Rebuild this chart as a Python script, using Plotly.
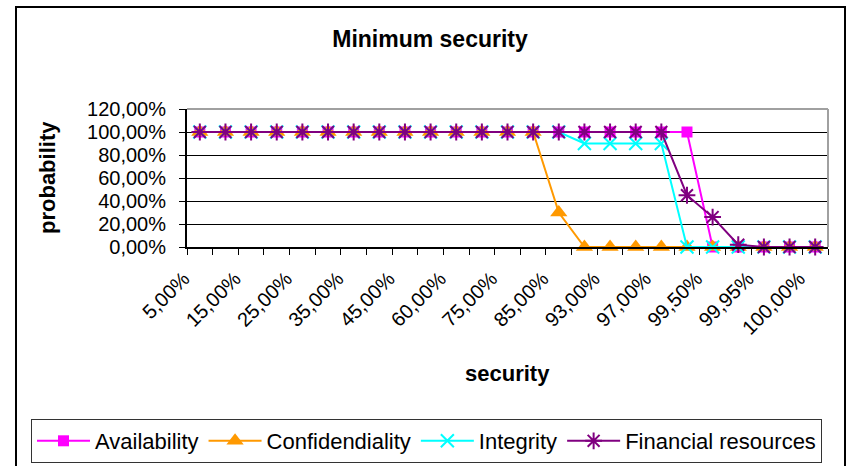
import plotly.graph_objects as go

# Security levels (category axis)
security = ["5,00%", "10,00%", "15,00%", "20,00%", "25,00%", "30,00%", "35,00%",
            "40,00%", "45,00%", "50,00%", "60,00%", "70,00%", "75,00%", "80,00%",
            "85,00%", "90,00%", "93,00%", "95,00%", "97,00%", "99,00%", "99,50%",
            "99,90%", "99,95%", "99,99%", "100,00%"]

availability = [1, 1, 1, 1, 1, 1, 1, 1, 1, 1, 1, 1, 1, 1, 1, 1, 1, 1, 1, 1,
                0, 0, 0, 0, 0]
confidentiality = [1, 1, 1, 1, 1, 1, 1, 1, 1, 1, 1, 1, 1, 1, 0.30,
                   0, 0, 0, 0, 0, 0, 0, 0, 0, 0]
integrity = [1, 1, 1, 1, 1, 1, 1, 1, 1, 1, 1, 1, 1, 1, 1,
             0.90, 0.90, 0.90, 0.90, 0, 0, 0, 0, 0, 0]
financial = [1, 1, 1, 1, 1, 1, 1, 1, 1, 1, 1, 1, 1, 1, 1, 1, 1, 1, 1,
             0.45, 0.26, 0.02, 0, 0, 0]

y_ticks = [0, 0.2, 0.4, 0.6, 0.8, 1.0, 1.2]

W, H = 846, 466
# plot area in pixels
L, R, T, B = 187, 828, 109, 247
PW, PH = R - L, B - T


def px_x(x):
    return (x - L) / PW


def px_y(y):
    return (B - y) / PH


FONT = "Liberation Sans, Arial, sans-serif"

fig = go.Figure()

series = [
    ("Availability", availability, "#FF00FF",
     dict(symbol="square", size=11, color="#FF00FF", line=dict(width=0))),
    ("Confidendiality", confidentiality, "#FF9900",
     dict(symbol="triangle-up", size=15, color="#FF9900", line=dict(width=0))),
    ("Integrity", integrity, "#00FFFF",
     dict(symbol="x-thin-open", size=13, color="#00FFFF", line=dict(width=2, color="#00FFFF"))),
    ("Financial resources", financial, "#800080",
     dict(symbol="asterisk-open", size=14, color="#800080", line=dict(width=2, color="#800080"))),
]

for name, vals, col, mk in series:
    fig.add_trace(go.Scatter(
        x=security, y=vals, name=name, mode="lines+markers",
        line=dict(color=col, width=2), marker=mk, cliponaxis=False,
    ))

tick_text = [s if i % 2 == 0 else "" for i, s in enumerate(security)]

fig.update_layout(
    width=W, height=H,
    margin=dict(l=L, r=W - R, t=T, b=H - B, autoexpand=False),
    paper_bgcolor="white", plot_bgcolor="white",
    separators=",.",
    font=dict(family=FONT, size=20, color="black"),
    showlegend=True,
    title=dict(text="<b>Minimum security</b>", font=dict(size=23, family=FONT, color="black"),
               x=430 / W, xanchor="center", xref="container",
               y=1 - 39 / H, yanchor="middle", yref="container"),
    xaxis=dict(
        type="category", range=[-0.5, len(security) - 0.5],
        tickmode="array", tickvals=security, ticktext=tick_text,
        tickangle=-45, tickson="boundaries", ticks="outside", ticklen=6,
        tickcolor="black", tickwidth=1, showgrid=False, showline=True,
        linecolor="black", linewidth=2, zeroline=False,
        ticklabelshift=-16, ticklabelstandoff=10,
        tickfont=dict(size=20, family=FONT, color="black"),
    ),
    yaxis=dict(
        range=[0, 1.2], tickmode="array", tickvals=y_ticks, tickformat=".2%",
        ticks="outside", ticklen=6, tickcolor="black", showgrid=True,
        gridcolor="black", gridwidth=1, showline=True, linecolor="black",
        linewidth=2, zeroline=False, ticklabelstandoff=9,
        tickfont=dict(size=20, family=FONT, color="black"),
    ),
    legend=dict(
        orientation="h", x=px_x(31), xanchor="left", y=px_y(419), yanchor="top",
        bordercolor="#333333", borderwidth=1, bgcolor="white",
        font=dict(size=22, family=FONT, color="black"),
        itemwidth=53, tracegroupgap=0,
    ),
    annotations=[
        dict(text="<b>probability</b>", xref="paper", yref="paper",
             x=px_x(47), y=px_y(178), xanchor="center", yanchor="middle",
             textangle=-90, showarrow=False, font=dict(size=22, family=FONT)),
        dict(text="<b>security</b>", xref="paper", yref="paper",
             x=px_x(507), y=px_y(373), xanchor="center", yanchor="middle",
             showarrow=False, font=dict(size=22, family=FONT)),
    ],
    shapes=[
        # plot area frame (top/right)
        dict(type="line", xref="paper", yref="paper", x0=0, x1=1, y0=1, y1=1,
             line=dict(color="#A0A0A0", width=2), layer="above"),
        dict(type="line", xref="paper", yref="paper", x0=1, x1=1, y0=0, y1=1,
             line=dict(color="#A0A0A0", width=2), layer="above"),
        # outer chart frame
        dict(type="rect", xref="paper", yref="paper",
             x0=px_x(16), x1=px_x(845), y0=px_y(475), y1=px_y(7),
             line=dict(color="black", width=2)),
    ],
)

fig.write_html("out.html")
